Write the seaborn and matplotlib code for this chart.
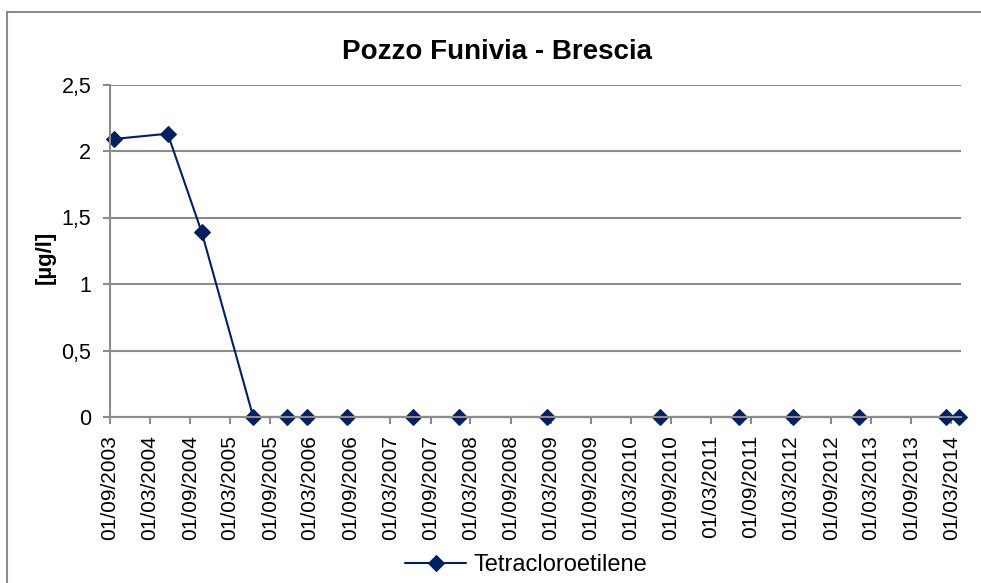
import pandas as pd
import matplotlib
matplotlib.use("Agg")
import matplotlib.pyplot as plt
import matplotlib.dates as mdates
from matplotlib.patches import Rectangle
import seaborn as sns

# Dati (Pozzo Funivia - Brescia)
date = ["2003-09-17", "2004-05-21", "2004-10-23", "2005-06-15", "2005-11-17",
        "2006-02-17", "2006-08-15", "2007-06-12", "2008-01-11", "2009-02-12",
        "2010-07-11", "2011-07-07", "2012-03-11", "2013-01-06", "2014-02-04",
        "2014-04-07"]
valori = [2.09, 2.13, 1.39, 0, 0, 0, 0, 0, 0, 0, 0, 0, 0, 0, 0, 0]
serie = "Tetracloroetilene"

df = pd.DataFrame({"Data": pd.to_datetime(date), "Valore": valori})

sns.set_style("white")
plt.rcParams['font.family'] = ['Liberation Sans', 'DejaVu Sans']
plt.rcParams['text.color'] = 'black'

fig = plt.figure(figsize=(9.81, 5.83), dpi=100)
ax = fig.add_axes([110 / 981, 1 - 417 / 583, (961 - 110) / 981, (417 - 84.5) / 583])

sns.lineplot(data=df, x="Data", y="Valore", ax=ax, color="#002060", marker="D",
             markersize=8.5, markeredgecolor="#002060", linewidth=1.5, label=serie)
for linea in ax.lines:
    linea.set_clip_on(False)

# assi e griglia stile Excel
grigio = "#8c8c8c"
ax.set_ylim(0, 2.5)
ax.set_yticks([0, 0.5, 1, 1.5, 2, 2.5])
ax.set_yticklabels(["0", "0,5", "1", "1,5", "2", "2,5"])
ax.set_xlim(pd.Timestamp("2003-09-01"), pd.Timestamp("2014-04-15"))
ax.xaxis.set_major_locator(mdates.MonthLocator(bymonth=[3, 9], bymonthday=1))
ax.xaxis.set_major_formatter(mdates.DateFormatter("%d/%m/%Y"))
plt.setp(ax.get_xticklabels(), rotation=90)
ax.tick_params(axis="both", labelsize=15, colors=grigio, labelcolor="black",
               length=5, width=1.5, direction="out")
ax.tick_params(axis="x", bottom=True, pad=8)
ax.tick_params(axis="y", left=True, pad=8.5, labelsize=15.5)
ax.grid(axis="y", color=grigio, linewidth=1.5)
ax.set_axisbelow(True)
for lato in ["top", "right"]:
    ax.spines[lato].set_visible(False)
for lato in ["left", "bottom"]:
    ax.spines[lato].set_color(grigio)
    ax.spines[lato].set_linewidth(1.5)

ax.set_xlabel("")
ax.set_ylabel("")
fig.text(45 / 981, 1 - 257 / 583, "[µg/l]", rotation=90, ha="center", va="center",
         fontsize=16, fontweight="bold", color="black")
fig.text(497 / 981, 1 - 52 / 583, "Pozzo Funivia - Brescia", ha="center", va="center",
         fontsize=20, fontweight="bold", color="black")

ax.legend(loc="center", bbox_to_anchor=(526 / 981, 1 - 565 / 583),
          bbox_transform=fig.transFigure, frameon=False, fontsize=17,
          handlelength=2.6, handletextpad=0.3, borderpad=0, labelcolor="black")

# cornice del grafico
fig.patches.append(Rectangle((7 / 981, -0.01), 1.0, 1 - 12 / 583 + 0.01,
                             transform=fig.transFigure, fill=False,
                             edgecolor=grigio, linewidth=1.5))

fig.savefig("out.png", dpi=100)
